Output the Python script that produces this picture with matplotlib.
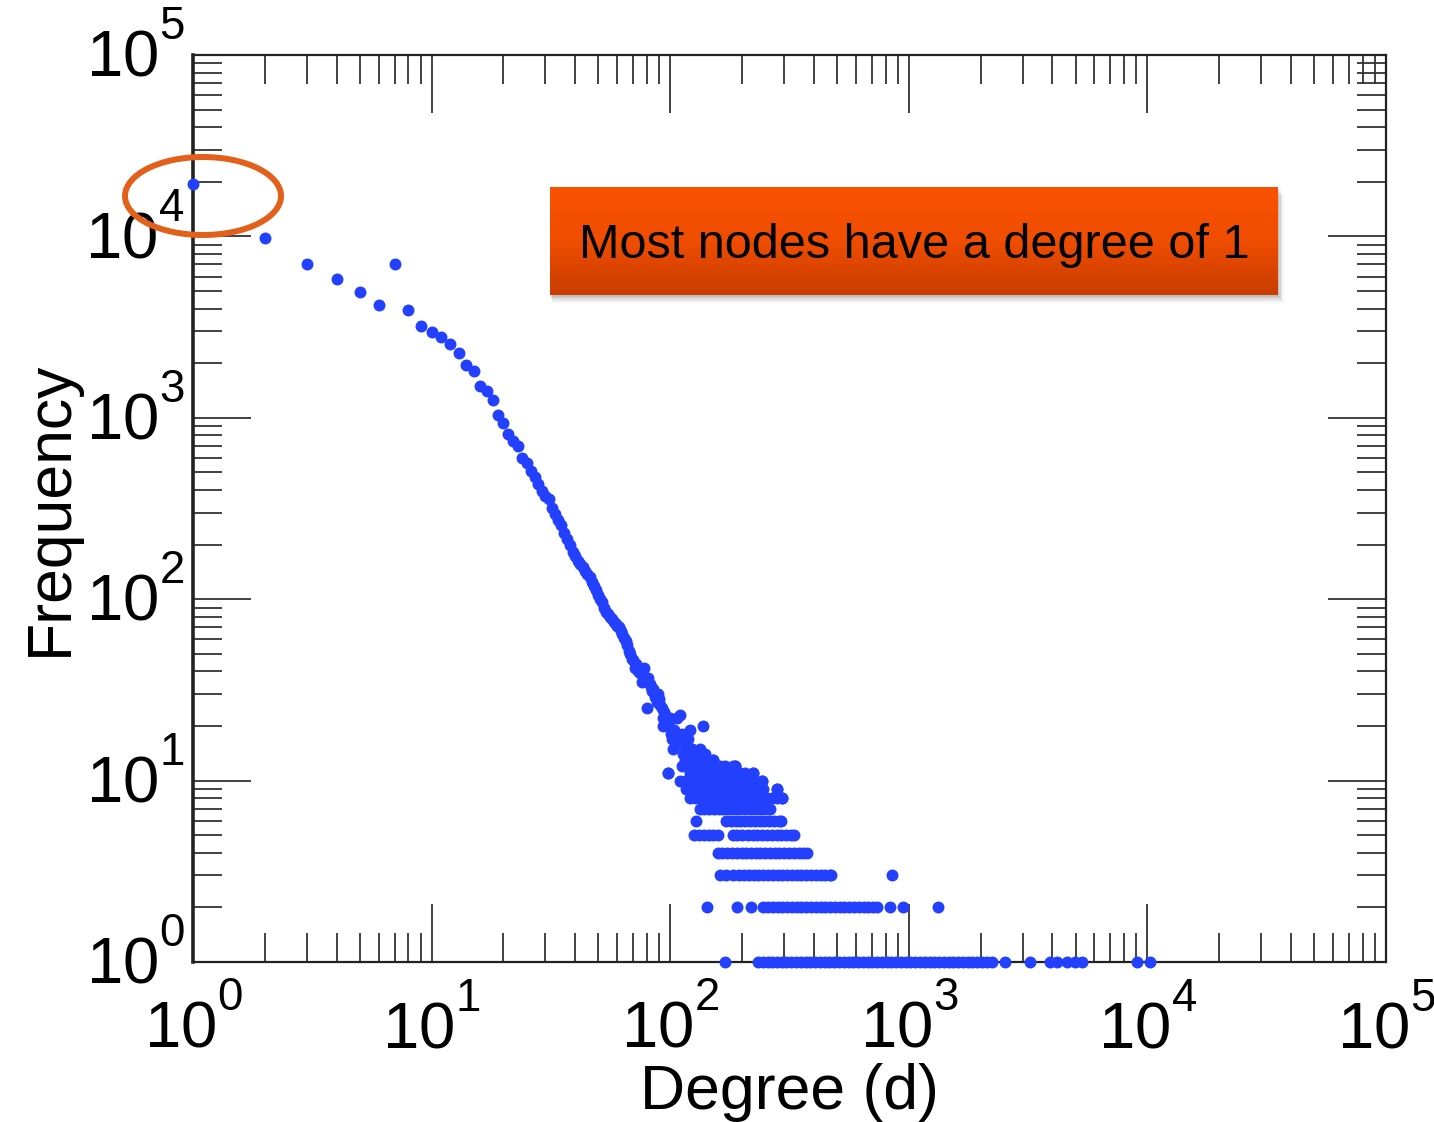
import numpy as np
import matplotlib
matplotlib.use("Agg")
import matplotlib.pyplot as plt
from matplotlib.patches import Ellipse, Rectangle
from matplotlib.colors import LinearSegmentedColormap
from matplotlib.ticker import LogLocator, FuncFormatter, NullFormatter
from matplotlib.transforms import ScaledTranslation

plt.rcParams['font.family'] = ['Liberation Sans', 'DejaVu Sans']
plt.rcParams['mathtext.fontset'] = 'custom'
plt.rcParams['mathtext.rm'] = 'Liberation Sans'
plt.rcParams['mathtext.it'] = 'Liberation Sans:italic'
plt.rcParams['mathtext.bf'] = 'Liberation Sans:bold'

# raise the exponents a bit higher, as in the reference tick labels
try:
    import matplotlib._mathtext as _mt
    _mt.FontConstantsBase.sup1 = 1.1
except Exception:
    pass

# ---------------- data ----------------
# main chain: one point per degree
chain_deg = list(range(1, 66))
chain_freq = [19500, 9800, 7050, 5830, 4930, 4190, 7050, 3930, 3210, 2970,
              2790, 2550, 2276, 1955, 1811, 1497, 1405, 1254, 1036, 936,
              815, 745, 700, 600, 560, 510, 470, 430, 395, 372,
              355, 320, 295, 272, 255, 232, 215, 198, 182, 172,
              162, 156, 150, 143, 138, 133, 124, 118, 112, 106,
              100, 96, 90, 85, 83, 80, 78, 75, 73, 71,
              70, 67, 64, 61, 59]

# scattered cloud above the integer bands
cloud_deg = [66, 67, 68, 69, 70, 71, 72, 73, 74, 75, 76, 77, 78, 79, 80, 81, 82, 83, 84, 85,
             86, 87, 88, 89, 90, 91, 92, 93, 94, 95, 93, 96, 98, 99, 100, 101, 102, 103, 104, 106,
             107, 108, 110, 112, 113, 115, 117, 119, 121, 123, 126, 130, 133, 137, 140, 145, 151, 155,
             162, 170, 183, 187, 222, 242, 280, 294]
cloud_freq = [56, 52, 50, 47, 46, 42, 44, 40, 41, 39, 35, 38, 42, 36, 25, 37, 34, 33, 31, 32,
              29, 30, 27, 30, 28, 26, 25, 22, 24, 23, 20, 21, 11, 20, 22, 18, 17, 15, 19, 16,
              22, 17, 23, 18, 14, 16, 15, 17, 19, 15, 14, 13, 15, 20, 14, 13, 13, 12,
              12, 12, 12, 12, 11, 10, 9, 8]

# horizontal bands: degrees that share one small frequency
band_f13 = [115, 121, 130, 137, 151]
band_f12 = [112, 118, 124, 130, 137, 144, 151, 187]
band_f11 = [98, 121, 127, 133, 139, 146, 153, 162, 170, 178, 187, 196, 206, 222]
band_f10 = [110, 115, 121, 127, 133, 139, 146, 153, 160, 168, 176, 184, 193, 202, 212, 222, 242]
band_f9 = [117, 123, 129, 135, 142, 149, 156, 163, 171, 179, 188, 197, 206, 216, 226, 245, 280]
band_f8 = [121, 127, 133, 139, 146, 153, 160, 168, 176, 184, 193, 202, 212, 222, 233, 244, 255,
           267, 280, 294]
band_f7 = [133, 139, 146, 153, 160, 167, 175, 183, 192, 201, 210, 220, 231, 241, 252, 262]
band_f6 = [128, 172, 180, 188, 197, 206, 216, 226, 237, 248, 260, 272, 285, 292]
band_f5 = [126, 132, 138, 145, 151, 158, 183, 191, 200, 211, 222, 232, 243, 255, 267, 279, 292,
           306, 320, 331]
band_f4 = [158, 165, 173, 181, 190, 199, 208, 218, 228, 239, 250, 262, 274, 287, 301, 315, 330,
           345, 361, 374]
band_f3 = [162, 172, 183, 195, 204, 214, 224, 234, 245, 257, 269, 282, 295, 309, 323, 339, 355,
           371, 389, 407, 427, 447, 468, 474, 851]
band_f2 = [143, 191, 218, 245, 257, 269, 282, 295, 309, 323, 339, 355, 371, 389, 407, 427, 447,
           468, 490, 513, 537, 562, 589, 617, 646, 676, 708, 736, 834, 946, 1325]
band_f1 = [170, 233, 244, 256, 268, 280, 294, 307, 322, 337, 353, 370, 387, 405, 424, 444, 465,
           487, 510, 534, 559, 585, 613, 642, 672, 704, 737, 771, 808, 846, 885, 927, 971, 1016,
           1064, 1114, 1167, 1222, 1279, 1340, 1403, 1469, 1538, 1610, 1686, 1766, 1849, 1936,
           2027, 2123, 2232, 2530, 3220, 3910, 4180, 4600, 4970, 5320, 9040, 10250]

bands = {13: band_f13, 12: band_f12, 11: band_f11, 10: band_f10, 9: band_f9, 8: band_f8,
         7: band_f7, 6: band_f6, 5: band_f5, 4: band_f4, 3: band_f3, 2: band_f2, 1: band_f1}

annotation_text = "Most nodes have a degree of 1"

# ---------------- figure ----------------
W, H = 1434, 1122
fig = plt.figure(figsize=(W / 100, H / 100), dpi=100)
fig.patch.set_facecolor('white')

ax_l, ax_r, ax_t, ax_b = 193, 1386, 55, 962
ax = fig.add_axes([ax_l / W, 1 - ax_b / H, (ax_r - ax_l) / W, (ax_b - ax_t) / H])
ax.set_facecolor('none')

all_deg = list(chain_deg) + list(cloud_deg)
all_freq = list(chain_freq) + list(cloud_freq)
for f, degs in bands.items():
    all_deg += degs
    all_freq += [f] * len(degs)

ax.plot(all_deg, all_freq, linestyle='none', marker='o', markersize=8.6,
        markerfacecolor='#2440ff', markeredgecolor='none', clip_on=False, zorder=3)

ax.set_xscale('log')
ax.set_yscale('log')
ax.set_xlim(1, 1e5)
ax.set_ylim(1, 1e5)

ax.xaxis.set_major_locator(LogLocator(base=10, numticks=10))
ax.yaxis.set_major_locator(LogLocator(base=10, numticks=10))
ax.xaxis.set_minor_locator(LogLocator(base=10, subs=np.arange(2, 10), numticks=20))
ax.yaxis.set_minor_locator(LogLocator(base=10, subs=np.arange(2, 10), numticks=20))
ax.xaxis.set_minor_formatter(NullFormatter())
ax.yaxis.set_minor_formatter(NullFormatter())

fmt = FuncFormatter(lambda v, p: r'$\mathregular{10^{%d}}$' % int(round(np.log10(v))))
ax.xaxis.set_major_formatter(fmt)
ax.yaxis.set_major_formatter(fmt)

ax.tick_params(which='major', direction='in', length=42, width=1.3, top=True, right=True,
               labelsize=47, color='#333333')
ax.tick_params(which='minor', direction='in', length=21, width=1.3, top=True, right=True,
               color='#333333')
ax.tick_params(axis='x', which='major', pad=18)
ax.tick_params(axis='y', which='major', pad=6)

# keep the digits of the y labels centred on the tick (exponent sticks up)
y_shift = ScaledTranslation(0, 0.09, fig.dpi_scale_trans)
for t in ax.yaxis.get_major_ticks():
    t.label1.set_transform(t.label1.get_transform() + y_shift)

for s in ax.spines.values():
    s.set_linewidth(1.6)
    s.set_color('#222222')
ax.spines['left'].set_linewidth(2.6)

ax.set_xlabel('Degree (d)', fontsize=45, va='top')
ax.set_ylabel('Frequency', fontsize=45)
ax.xaxis.set_label_coords(0.5, -0.111)
ax.yaxis.set_label_coords(-0.095, 0.5)

# ---------------- annotation box with gradient and shadow ----------------
bx0, bx1, by0, by1 = 550, 1278, 187, 295
for i, a in enumerate([0.10, 0.08, 0.06, 0.04]):
    off = 2 + i * 2
    fig.patches.append(Rectangle(((bx0 + off * 0.3) / W, 1 - (by1 + off) / H),
                                 (bx1 - bx0 + off * 0.4) / W, (by1 - by0) / H,
                                 transform=fig.transFigure, facecolor='black',
                                 edgecolor='none', alpha=a, zorder=1))
box_ax = fig.add_axes([bx0 / W, 1 - by1 / H, (bx1 - bx0) / W, (by1 - by0) / H])
box_ax.set_zorder(2)
grad = np.linspace(0, 1, 256).reshape(-1, 1)
cmap = LinearSegmentedColormap.from_list('orng', ['#fa5200', '#ef4d00', '#c93d00'])
box_ax.imshow(grad, aspect='auto', cmap=cmap, extent=[0, 1, 0, 1], origin='upper')
box_ax.set_axis_off()
box_ax.text(0.5, 0.46, annotation_text, ha='center', va='center', fontsize=35,
            color='black', transform=box_ax.transAxes)

# ---------------- ellipse highlight ----------------
ell = Ellipse((203 / W, 1 - 196 / H), 156 / W, 78 / H, transform=fig.transFigure,
              facecolor='none', edgecolor='#e2601a', linewidth=4.3, zorder=10)
fig.patches.append(ell)

fig.savefig('out.png', dpi=100, facecolor='white')
